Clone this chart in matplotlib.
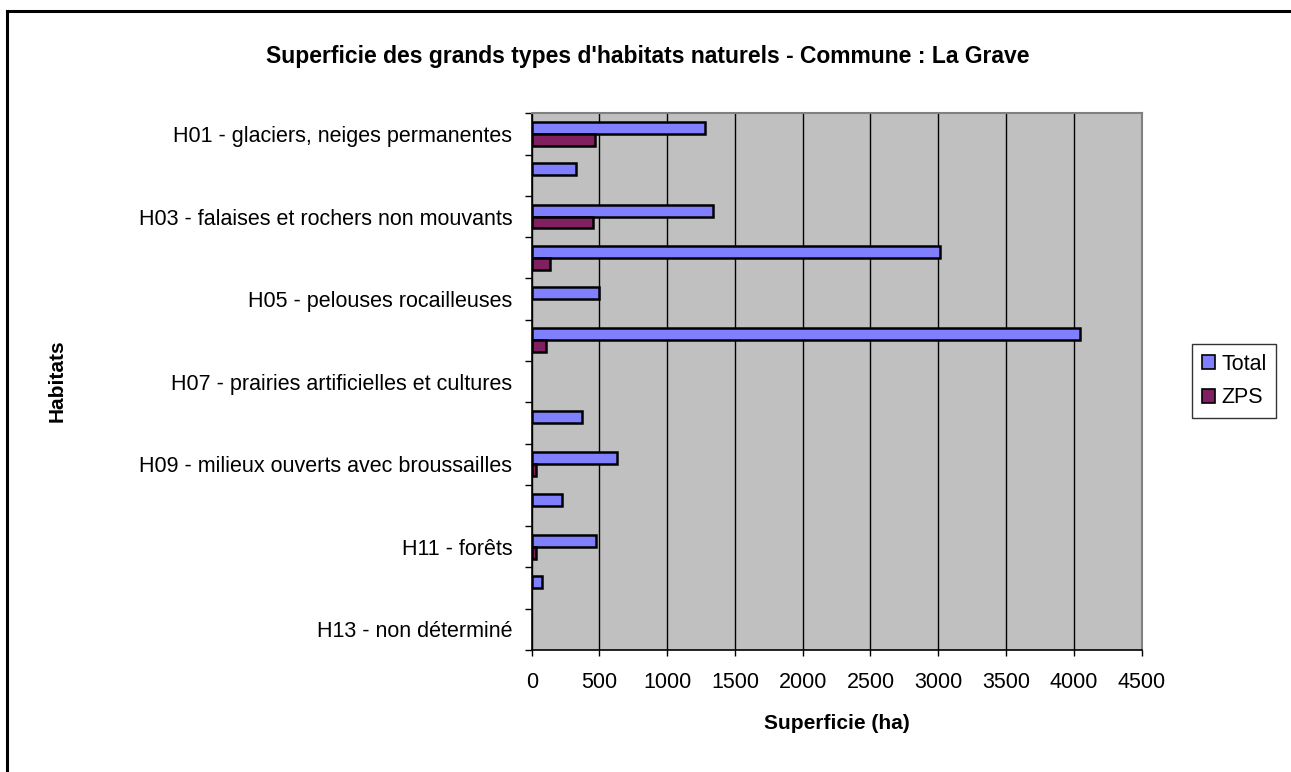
import numpy as np
import matplotlib
matplotlib.use("Agg")
import matplotlib.pyplot as plt
from matplotlib.lines import Line2D
from matplotlib.patches import Patch

plt.rcParams['font.family'] = ['Liberation Sans', 'DejaVu Sans']

# Data
codes = ["H01", "H02", "H03", "H04", "H05", "H06", "H07",
         "H08", "H09", "H10", "H11", "H12", "H13"]
# Excel only printed every second category name
shown_names = {
    "H01": "H01 - glaciers, neiges permanentes",
    "H03": "H03 - falaises et rochers non mouvants",
    "H05": "H05 - pelouses rocailleuses",
    "H07": "H07 - prairies artificielles et cultures",
    "H09": "H09 - milieux ouverts avec broussailles",
    "H11": "H11 - forêts",
    "H13": "H13 - non déterminé",
}
total = [1279, 324, 1338, 3015, 500, 4044, 0, 368, 632, 221, 475, 74, 0]
zps = [470, 0, 456, 132, 0, 103, 0, 0, 29, 0, 29, 0, 0]

title = "Superficie des grands types d'habitats naturels - Commune : La Grave"
xlabel = "Superficie (ha)"
ylabel = "Habitats"

W, H = 1291, 772
fig = plt.figure(figsize=(W / 100, H / 100), dpi=100)
fig.patch.set_facecolor("white")

# axes placed in pixel coordinates
x0, x1, y0, y1 = 531.7, 1141.5, 113.3, 650.0
ax = fig.add_axes([x0 / W, 1 - y1 / H, (x1 - x0) / W, (y1 - y0) / H])
ax.set_facecolor("#C0C0C0")

pos = np.arange(len(codes))
bh = 0.29
total_c = "#8080FF"
zps_c = "#802060"

for i, v in enumerate(total):
    if v > 0:
        ax.barh(pos[i] - bh / 2, v, height=bh, color=total_c,
                edgecolor="black", linewidth=1.8, zorder=3)
for i, v in enumerate(zps):
    if v > 0:
        ax.barh(pos[i] + bh / 2, v, height=bh, color=zps_c,
                edgecolor="black", linewidth=1.8, zorder=3)

ax.set_xlim(0, 4500)
ax.set_ylim(len(codes) - 0.5, -0.5)
ax.set_xticks(np.arange(0, 4501, 500))
ax.xaxis.grid(True, color="black", linewidth=1.0, zorder=1)
ax.set_axisbelow(True)

# category boundaries carry the tick marks, centres carry the labels
ax.set_yticks(np.arange(-0.5, len(codes), 1.0))
ax.set_yticklabels([])
ax.set_yticks(pos, minor=True)
ax.set_yticklabels([shown_names.get(c, "") for c in codes], minor=True)
ax.tick_params(axis="y", which="major", length=5, width=1, direction="out")
ax.tick_params(axis="y", which="minor", length=0, pad=14, labelsize=15.5)
ax.tick_params(axis="x", length=4, width=1, direction="out", pad=12,
               labelsize=15.5)

for s in ("top", "right"):
    ax.spines[s].set_color("#808080")
    ax.spines[s].set_linewidth(1.5)
for s in ("left", "bottom"):
    ax.spines[s].set_color("black")
    ax.spines[s].set_linewidth(1.2)

ax.set_xlabel(xlabel, fontsize=15, fontweight="bold", labelpad=15)
fig.text(57 / W, 1 - 381 / H, ylabel, rotation=90, ha="center", va="center",
         fontsize=15, fontweight="bold")
fig.text(648 / W, 1 - 57 / H, title, ha="center", va="center",
         fontsize=16.5, fontweight="bold")

handles = [Patch(facecolor=total_c, edgecolor="black", linewidth=1.2),
           Patch(facecolor=zps_c, edgecolor="black", linewidth=1.2)]
leg = fig.legend(handles, ["Total", "ZPS"], loc="center left",
                 bbox_to_anchor=(1192 / W, 1 - 381 / H), fontsize=15.5,
                 frameon=True, fancybox=False, handlelength=0.6,
                 handleheight=0.6, handletextpad=0.3, borderpad=0.45,
                 labelspacing=0.6, borderaxespad=0)
leg.get_frame().set_edgecolor("black")
leg.get_frame().set_linewidth(1.0)

# outer chart border (only left and top are visible in the image)
fig.add_artist(Line2D([7 / W, 7 / W], [1 - 11 / H, -0.1], color="black",
                      linewidth=2.2, transform=fig.transFigure))
fig.add_artist(Line2D([7 / W, 1.1], [1 - 11 / H, 1 - 11 / H], color="black",
                      linewidth=2.2, transform=fig.transFigure))

fig.savefig("out.png", dpi=100)
